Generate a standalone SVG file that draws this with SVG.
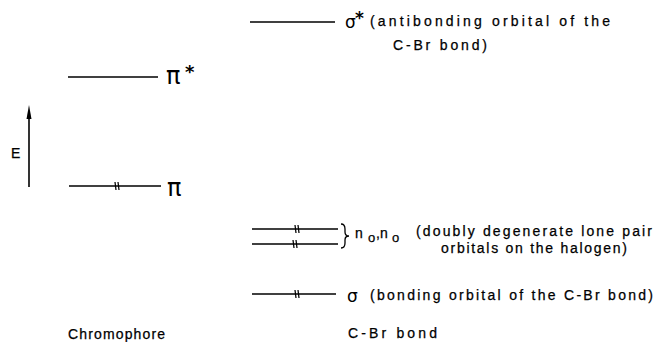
<svg xmlns="http://www.w3.org/2000/svg" width="655" height="342" viewBox="0 0 655 342">
<style>
.lvl{stroke:#000;stroke-width:1.6;fill:none}
.tick{stroke:#000;stroke-width:1.3;fill:none}
.t{font-family:"Liberation Sans",Arial,sans-serif;font-size:14px;fill:#000;stroke:#000;stroke-width:0.25}
.sym{font-family:"DejaVu Sans",sans-serif;fill:#000}
.star{font-family:"DejaVu Sans",sans-serif;font-weight:bold;fill:#000}
</style>
<rect width="655" height="342" fill="#fff"/>
<g id="connectors">
<line class="lvl" x1="29" y1="187" x2="29" y2="118" stroke-width="1.2"/>
<path d="M26.5,119 L29,105 L31.5,119 Z" fill="#000"/>
</g>
<g id="energy-axis">
<text class="t" x="11" y="158" font-size="16">E</text>
</g>
<g id="pi-star">
<line class="lvl" x1="68" y1="77" x2="158" y2="77"/>
<text class="sym" x="166" y="84" font-size="24">π</text>
<text class="star" x="185" y="78" font-size="18">*</text>
</g>
<g id="pi">
<line class="lvl" x1="69" y1="186" x2="161" y2="186"/>
<line class="tick" x1="115" y1="182" x2="116" y2="190"/>
<line class="tick" x1="118" y1="182" x2="119" y2="190"/>
<text class="sym" x="167" y="196" font-size="24">π</text>
</g>
<g id="sigma-star">
<line class="lvl" x1="250" y1="22" x2="335" y2="22"/>
<text class="sym" x="345" y="28" font-size="17">σ</text>
<text class="star" x="355" y="24" font-size="17">*</text>
<text class="t" x="370" y="26" textLength="240" lengthAdjust="spacing">(antibonding orbital of the</text>
<text class="t" x="393" y="50" textLength="94" lengthAdjust="spacing">C-Br bond)</text>
</g>
<g id="n-orbitals">
<line class="lvl" x1="252" y1="229" x2="338" y2="229"/>
<line class="tick" x1="295" y1="225" x2="296" y2="233"/>
<line class="tick" x1="298" y1="225" x2="299" y2="233"/>
<line class="lvl" x1="252" y1="244" x2="338" y2="244"/>
<line class="tick" x1="293" y1="240" x2="294" y2="248"/>
<line class="tick" x1="296" y1="240" x2="297" y2="248"/>
<path class="tick" d="M341,224 Q345,224 345,229 L345,232 Q345,236 349,236 Q345,236 345,240 L345,243 Q345,248 341,248"/>
<text class="t" x="355" y="238" font-size="16">n<tspan x="368" font-size="13" dy="4">o</tspan><tspan x="376" dy="-4">,</tspan><tspan x="380">n</tspan><tspan x="392" font-size="13" dy="4">o</tspan></text>
<text class="t" x="416" y="236" textLength="236" lengthAdjust="spacing">(doubly degenerate lone pair</text>
<text class="t" x="441" y="253" textLength="186" lengthAdjust="spacing">orbitals on the halogen)</text>
</g>
<g id="sigma">
<line class="lvl" x1="252" y1="294" x2="336" y2="294"/>
<line class="tick" x1="295" y1="290" x2="296" y2="298"/>
<line class="tick" x1="298" y1="290" x2="299" y2="298"/>
<text class="sym" x="347" y="302" font-size="17">σ</text>
<text class="t" x="370" y="300" textLength="283" lengthAdjust="spacing">(bonding orbital of the C-Br bond)</text>
</g>
<g id="labels">
<text class="t" x="68" y="339" textLength="97" lengthAdjust="spacing">Chromophore</text>
<text class="t" x="348" y="338" textLength="89" lengthAdjust="spacing">C-Br bond</text>
</g>
</svg>
